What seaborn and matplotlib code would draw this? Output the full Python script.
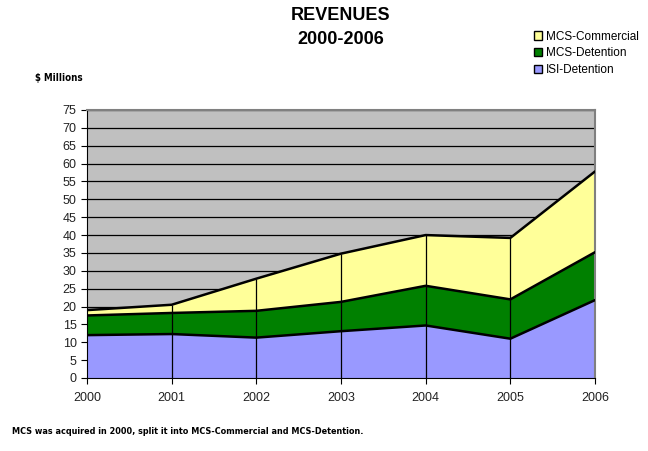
import numpy as np
import pandas as pd
import seaborn as sns
import matplotlib.pyplot as plt
from matplotlib.patches import Patch

years = [2000, 2001, 2002, 2003, 2004, 2005, 2006]
isi_detention = [12.0, 12.3, 11.3, 13.1, 14.7, 11.0, 21.8]
mcs_detention = [5.5, 5.9, 7.5, 8.2, 11.1, 11.0, 13.4]
mcs_commercial = [1.5, 2.3, 9.0, 13.5, 14.2, 17.2, 22.6]
series_names = ["ISI-Detention", "MCS-Detention", "MCS-Commercial"]
colors = ["#9999FF", "#008000", "#FFFF99"]

sns.set_style("ticks")
plt.rcParams["font.family"] = ["Liberation Sans", "DejaVu Sans"]
plt.rcParams["text.color"] = "black"

fig = plt.figure(figsize=(6.48, 4.51), dpi=100)
ax = fig.add_axes([87 / 648, 73 / 451, 508 / 648, 268 / 451])
ax.set_facecolor("#C0C0C0")

stack = np.vstack([isi_detention, mcs_detention, mcs_commercial])
ax.stackplot(years, stack, colors=colors, edgecolor="none", zorder=2)

# outline each stacked layer, plus the category drop lines Excel draws
cum = pd.DataFrame(np.cumsum(stack, axis=0).T, columns=series_names)
cum["year"] = years
for name in series_names:
    sns.lineplot(data=cum, x="year", y=name, ax=ax, color="black", lw=1.8, zorder=3)
ax.vlines(years[1:-1], 0, cum[series_names[-1]].values[1:-1], color="black", lw=0.9, zorder=3)

ax.set_xlim(2000, 2006)
ax.set_ylim(0, 75)
ax.set_yticks(range(0, 76, 5))
ax.set_xticks(years)
ax.yaxis.grid(True, color="black", lw=0.9, zorder=1)
ax.set_axisbelow(True)
ax.set_xlabel("")
ax.set_ylabel("")
ax.tick_params(axis="both", labelsize=9, length=4, color="black", labelcolor="#222222")
ax.tick_params(axis="x", pad=6)
for s in ["left", "bottom"]:
    ax.spines[s].set_color("black")
for s in ["top", "right"]:
    ax.spines[s].set_color("#808080")
    ax.spines[s].set_linewidth(1.5)

fig.text(341 / 648, 1 - 15 / 451, "REVENUES", ha="center", va="center",
         fontsize=13, fontweight="heavy")
fig.text(341 / 648, 1 - 39 / 451, "2000-2006", ha="center", va="center",
         fontsize=13, fontweight="heavy")
fig.text(35 / 648, 1 - 78 / 451, "$ Millions", ha="left", va="center",
         fontsize=7, fontweight="bold", family=["DejaVu Sans"], fontstretch="condensed")
fig.text(12 / 648, 1 - 432 / 451,
         "MCS was acquired in 2000, split it into MCS-Commercial and MCS-Detention.",
         ha="left", va="center", fontsize=6.5, fontweight="bold",
         family=["DejaVu Sans"], fontstretch="condensed")

handles = [Patch(facecolor=colors[i], edgecolor="black", label=series_names[i]) for i in [2, 1, 0]]
fig.legend(handles=handles, loc="upper left", bbox_to_anchor=(529 / 648, 1 - 26 / 451),
           frameon=False, fontsize=8.5, handlelength=0.7, handleheight=0.7,
           handletextpad=0.3, labelspacing=0.4, borderaxespad=0)

fig.savefig("out.png", dpi=100)
plt.close(fig)
